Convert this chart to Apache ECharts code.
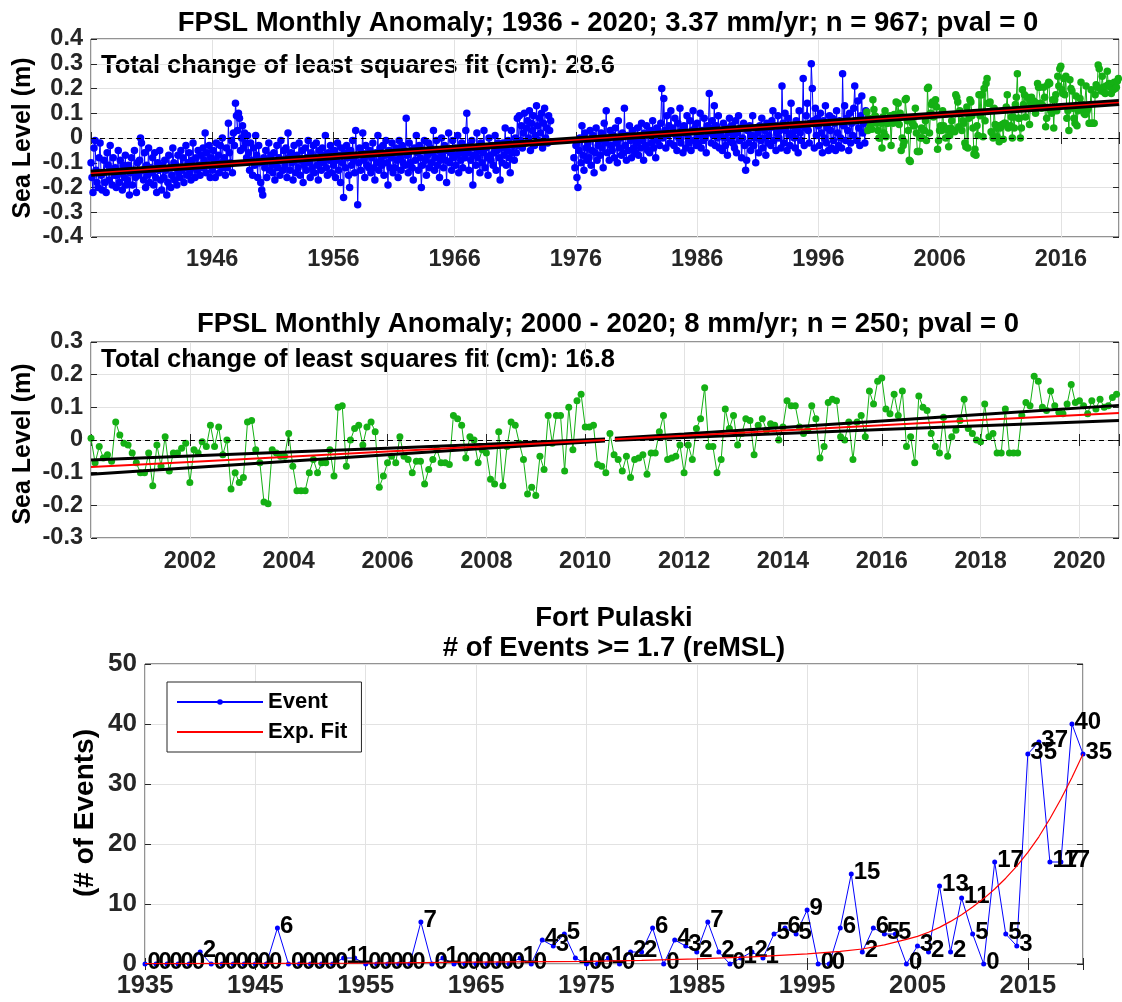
<!DOCTYPE html>
<html><head><meta charset="utf-8">
<script src="https://cdn.jsdelivr.net/npm/echarts@6/dist/echarts.min.js"></script>
<style>html,body{margin:0;padding:0;background:#fff}#c{width:1122px;height:1002px}</style>
</head><body><div id="c"></div>
<script>
// ---------------- DATA ----------------
// Top panel: monthly anomaly (cm), Jan 1936 - Dec 1973
const blueAStart = 1936;
const blueA = [
-10,-16,-22,-4,-1,-13,-18,-20,-8,-2,-15,-21,
-14,-9,-18,-22,-6,-11,-17,-3,-13,-19,-8,-15,
-12,-20,-15,-5,-18,-9,-14,-21,-11,-16,-7,-19,
-17,-11,-23,-14,-8,-19,-13,-5,-16,-22,-10,-15,
-9,0,-2,-13,-17,-6,-20,-11,-15,-4,-18,-12,
-14,-8,-19,-6,-16,-22,-10,-13,-5,-17,-21,-11,
-16,-9,-13,-23,-18,-7,-12,-20,-15,-4,-10,-17,
-11,-19,-7,-14,-16,-5,-13,-8,-18,-12,-3,-15,
-10,-6,-14,-17,-9,-2,-12,-16,-8,-13,-5,-11,
-15,-7,-12,-4,-9,2,-14,-6,-11,-3,-16,-8,
-13,-5,-9,-16,-2,-11,-7,-14,-3,-10,0,-12,
-8,-15,-4,-12,6,-6,-10,-1,-14,2,-3,14,
9,3,10,8,-5,0,5,-4,2,-2,-8,1,
-6,-13,-2,-9,-15,-4,-11,1,-7,-16,-3,-10,
-18,-21,-23,-8,-12,-5,-16,-9,-2,-13,-7,-11,
-14,-6,-17,-10,-3,-12,-8,-15,-1,-9,-13,-5,
-11,-4,-16,2,-8,-13,-6,-10,-17,-3,-9,-14,
-7,-12,-2,-15,-9,-5,-18,-11,-4,-13,-8,-1,
-10,-16,-6,-12,-3,-14,-8,-2,-11,-17,-5,-9,
-13,-4,-10,-7,1,-12,-15,-6,-9,-3,-14,-8,
-11,-5,-16,-9,-2,-13,-7,-18,-4,-10,-24,-6,
-12,-3,-8,-15,-20,-5,-11,-1,-9,-14,3,-7,
-27,-10,-4,-13,-6,2,-9,-16,-3,-11,-7,-12,
-5,-14,-8,-2,-12,-17,-6,-10,1,-13,-4,-9,
-11,-3,-15,-7,-1,-10,-19,-5,-12,-8,-2,-14,
-6,-12,-4,-9,-16,-1,-8,-13,-3,-10,-5,-11,
8,-7,-14,-2,-10,-5,-12,-17,-4,-9,1,-6,
-13,-3,-8,-20,-11,-5,-1,-9,-15,-7,-2,-12,
-4,-10,-6,3,-13,-8,-1,-11,-5,-16,-9,0,
-7,-12,-3,-9,-18,-5,2,-10,-6,-13,-1,-8,
-4,-11,-7,1,-14,-6,-9,-2,-12,-5,-8,3,
10,-6,-13,-3,-9,-1,-19,-7,-4,-11,2,-8,
-5,-14,-2,-10,-6,3,-12,-4,-8,-15,0,-7,
-9,-3,-11,-6,1,-13,-5,-2,-8,-17,-4,-10,
-2,-7,4,-11,-5,-1,-8,-14,3,-6,-3,-9,
0,-6,8,-3,9,-1,5,-4,2,10,-2,4,
7,0,11,-5,6,3,9,-3,1,13,5,-1,
8,2,10,-4,6,12,0,4,-2,9,3,7
];
// Top panel: monthly anomaly (cm), Nov 1975 - Dec 1999
const blueBStart = 1975 + 10/12;
const blueB = [
-8,-12,
-3,-16,-20,-5,0,-10,5,-7,-13,2,-4,-9,
-2,-8,3,-11,-5,1,-14,-6,4,-9,-3,-1,
-7,2,-4,-12,6,-2,11,-6,0,-9,3,-3,
-5,1,-8,4,-2,-10,7,-4,0,-7,2,-6,
12,-3,-9,1,-5,5,-1,-8,3,-4,0,-6,
-2,4,-7,0,-4,6,-1,-9,2,-3,5,-5,
1,-6,3,-2,7,-4,0,-8,4,-1,2,-3,
6,20,0,16,3,-4,9,1,5,-2,11,2,
4,-3,8,1,-5,6,0,12,-2,3,-6,5,
2,-4,9,0,-2,7,-5,3,11,-1,4,-3,
6,-2,1,10,-4,3,-1,8,0,-6,5,2,
18,4,-2,7,1,13,-3,5,0,9,-4,2,
3,-5,6,0,-3,4,-7,2,8,-1,5,-2,
1,-4,7,-6,2,9,-1,4,-8,0,6,-3,
-13,-9,3,-2,5,-5,1,9,-3,0,-10,4,
2,-6,5,-1,8,-4,0,3,-7,6,-2,1,
4,-3,7,11,-1,5,-5,2,9,0,3,-4,
21,6,-2,10,3,-5,8,1,-3,14,2,5,
0,-4,7,3,-6,11,2,-1,5,24,-3,4,
9,14,3,-2,6,30,20,7,-4,12,1,8,
5,-3,10,2,-6,7,0,13,-2,4,-5,9,
3,-4,8,-1,6,-5,11,2,-3,7,0,-4,
26,5,13,-1,8,3,-5,10,-2,6,1,12,
21,7,-1,15,4,-3,9,17,2,6,-2,11
];
// Top panel: monthly anomaly (cm), Jan 2000 onwards (green)
const greenStart = 2000;
const greenTop = [
10.5,3,8,4.5,5.5,3.5,15.5,11.5,9,8.5,6,3,
0,0,6,-4,8.5,2,11,0.5,6,6,7.5,9,
-3,7,6,9.5,8,14.5,8,14,5.5,10,-5,0,
-3,-1.5,15.5,16,7,3,-9,-9.5,7,6,5,5,
12,2,-5.5,-5.5,-5.5,0,4,0,3,3,7,-1,
20,20.5,2,10,13.5,14.5,8.5,14,15.5,12.5,-4.5,-1,
3,5,3,11,5,4,0,3.5,3.5,-3.5,1,4,
7,3,3,2.5,17.5,16.5,14.5,4.5,11,10,3,7,
6,-2,-3.5,12.5,-4,8,15.5,14.5,9,4,-6.5,-4.5,
-7,5,1,17.5,9,17.5,17.5,0.5,20,7,22,24,
14,14,14.5,2.5,2,0,12,5.5,4,0.5,5,-1.5,
4,4.5,5.5,-0.5,6,6,12.5,17.5,4,4.5,5,8.5,
0,8.5,4,13.5,16.5,26,8,8,0,4,19.5,13.5,
17.5,8.5,12,16.5,16,5.5,14.5,16.5,13,15,14.5,10,
14,22,20.5,20.5,14,12,13,20.5,16.5,4.5,8,21.5,
22.5,22,11,10,15.5,4,15.5,17.5,11,25,21,28,
29,19.5,18,24,17.5,25,8,11,3,23.5,20,19,
12,8,6,17,5,11,13,16,22.5,13.5,12,10,
9.5,21,11,12,6,6,19.5,6,6,6,17.5,21.5,
20.5,29.5,28,20,19,25,20.5,18.5,18,21,27,21.5,
22,20.5,18,22,19.5,22.5,20,20.5,23,24
];
// Middle panel: monthly anomaly (cm), Jan 2000 onwards
const greenMid = [
0.5,-7,-2,-5.5,-4.5,-6.5,5.5,1.5,-1,-1.5,-4,-7,
-10,-10,-4,-14,-1.5,-8,1,-9.5,-4,-4,-2.5,-1,
-13,-3,-4,-0.5,-2,4.5,-2,4,-4.5,0,-15,-10,
-13,-11.5,5.5,6,-3,-7,-19,-19.5,-3,-4,-5,-5,
2,-8,-15.5,-15.5,-15.5,-10,-6,-10,-7,-7,-3,-11,
10,10.5,-8,0,3.5,4.5,-1.5,4,5.5,2.5,-14.5,-11,
-7,-5,-7,1,-5,-6,-10,-6.5,-6.5,-13.5,-9,-6,
-3,-7,-7,-7.5,7.5,6.5,4.5,-5.5,1,0,-7,-3,
-4,-12,-13.5,2.5,-14,-2,5.5,4.5,-1,-6,-16.5,-14.5,
-17,-5,-9,7.5,-1,7.5,7.5,-9.5,10,-3,12,14,
4,4,4.5,-7.5,-8,-10,2,-4.5,-6,-9.5,-5,-11.5,
-6,-5.5,-4.5,-10.5,-4,-4,2.5,7.5,-6,-5.5,-5,-1.5,
-10,-1.5,-6,3.5,6.5,16,-2,-2,-10,-6,9.5,3.5,
7.5,-1.5,2,6.5,6,-4.5,4.5,6.5,3,5,4.5,0,
4,12,10.5,10.5,4,2,3,10.5,6.5,-5.5,-2,11.5,
12.5,12,1,0,5.5,-6,5.5,7.5,1,15,11,18,
19,9.5,8,14,7.5,15,-2,1,-7,13.5,10,9,
2,-2,-4,7,-5,1,3,6,12.5,3.5,2,0,
-0.5,11,1,2,-4,-4,9.5,-4,-4,-4,7.5,11.5,
10.5,19.5,18,10,9,15,10.5,8.5,8,11,17,11.5,
12,10.5,8,12,9.5,12.5,10,10.5,13,14
];
// Top panel least-squares fit (m)
const fitTopX = [1936, 2020.8];
const fitTopY = [-0.142, 0.143];
// Middle panel fit and bounds (m)
const midFitX  = [2000, 2002, 2004, 2006, 2008, 2010.4, 2010.6, 2012, 2014, 2016, 2018, 2020.8];
const midFitY  = [-0.083,-0.067,-0.051,-0.035,-0.019,0.000,0.002,0.013,0.029,0.045,0.061,0.083];
const midUpper = [-0.061,-0.049,-0.037,-0.025,-0.013,0.003,0.005,0.018,0.038,0.058,0.078,0.106];
const midLower = [-0.105,-0.085,-0.065,-0.045,-0.025,-0.003,-0.001,0.008,0.020,0.032,0.044,0.060];
const midBreak = 6; // first index of second segment
// Bottom panel: events per year
const eventYears = [];
for (let y = 1935; y <= 2020; y++) eventYears.push(y);
const eventCounts = [
0,0,0,0,0,2,0,0,0,0,0,0,6,0,0,0,0,0,1,1,
0,0,0,0,0,7,0,1,0,0,0,0,0,0,1,0,4,3,5,1,
0,0,1,0,2,2,6,0,4,3,2,7,2,0,1,2,1,5,6,5,
9,0,0,6,15,2,6,5,5,0,3,2,13,2,11,5,0,17,5,3,
35,37,17,17,40,35
];
const expFitYears = [1935, 1945, 1955, 1965, 1975, 1980, 1985, 1990, 1995, 1998, 2000, 2002, 2004, 2005, 2006, 2007, 2008, 2009, 2010, 2011, 2012, 2013, 2014, 2015, 2016, 2017, 2018, 2019, 2020];
const expFitVals  = [0.05, 0.1, 0.15, 0.3, 0.45, 0.6, 0.85, 1.2, 1.7, 2.1, 2.5, 3.2, 4.1, 4.6, 5.3, 6.1, 7.1, 8.2, 9.5, 10.9, 12.5, 14.3, 16.3, 18.6, 21.2, 24.2, 27.5, 31.1, 35];

// ---------------- BUILD ----------------
const FONTF = '"Liberation Sans", Arial, Helvetica, sans-serif';
const AX = '#262626', GRIDC = '#e2e2e2';
const BLUE = '#0000ff', GREEN = '#14b014', RED = '#ff0000';

function monthly(start, arr) { return arr.map((v, i) => [start + i / 12, v / 100]); }
function pairs(xs, ys, from, to) { const o = []; for (let i = from; i < to; i++) o.push([xs[i], ys[i]]); return o; }

function xAx(gi, min, max, interval, showMin, fs, margin, top) {
  return {
    type: 'value', gridIndex: gi, min, max, interval, position: top ? 'top' : 'bottom',
    axisLine: { show: false },
    axisTick: { show: true, inside: true, length: 6, lineStyle: { color: AX, width: 1 } },
    axisLabel: top ? { show: false } : {
      show: true, margin, color: AX, fontSize: fs, fontWeight: 'bold', fontFamily: FONTF,
      showMinLabel: true, showMaxLabel: true,
      formatter: v => { const r = Math.round(v); if (Math.abs(v - r) > 1e-6) return ''; if (Math.abs(r - min) < 1e-6 && !showMin) return ''; if (Math.abs(((r - min) % interval)) > 1e-6) return ''; if (r > max) return ''; return String(r); }
    },
    splitLine: { show: !top, lineStyle: { color: GRIDC, width: 1 } }
  };
}
function yAx(gi, min, max, interval, fs, margin, right, dec) {
  return {
    type: 'value', gridIndex: gi, min, max, interval, position: right ? 'right' : 'left',
    axisLine: { show: false },
    axisTick: { show: true, inside: true, length: 6, lineStyle: { color: AX, width: 1 } },
    axisLabel: right ? { show: false } : {
      show: true, margin, color: AX, fontSize: fs, fontWeight: 'bold', fontFamily: FONTF,
      formatter: v => { const r = Math.round(v * dec) / dec; return String(r === 0 ? 0 : r); }
    },
    splitLine: { show: !right, lineStyle: { color: GRIDC, width: 1 } }
  };
}

const grids = [
  { left: 91, top: 39, width: 1034, height: 198 },
  { left: 91, top: 342, width: 1031.5, height: 196 },
  { left: 145, top: 664, width: 938, height: 300 }
].map(g => Object.assign(g, { show: true, borderColor: AX, borderWidth: 1, backgroundColor: 'transparent' }));

const xAxes = [
  xAx(0, 1936, 2020.8, 10, false, 23.5, 11, false),
  xAx(1, 2000, 2020.8, 2, false, 23.5, 12, false),
  xAx(2, 1935, 2020, 10, true, 25.5, 9, false),
  xAx(0, 1936, 2020.8, 10, false, 23.5, 11, true),
  xAx(1, 2000, 2020.8, 2, false, 23.5, 12, true),
  xAx(2, 1935, 2020, 10, true, 25.5, 9, true)
];
const yAxes = [
  yAx(0, -0.4, 0.4, 0.1, 23.5, 8, false, 10),
  yAx(1, -0.3, 0.3, 0.1, 23.5, 8, false, 10),
  yAx(2, 0, 50, 10, 26, 8, false, 1),
  yAx(0, -0.4, 0.4, 0.1, 23.5, 8, true, 10),
  yAx(1, -0.3, 0.3, 0.1, 23.5, 8, true, 10),
  yAx(2, 0, 50, 10, 26, 8, true, 1)
];

function dataLine(name, xi, data, color, sym) {
  return { type: 'line', name, xAxisIndex: xi, yAxisIndex: xi, data, symbol: 'circle', symbolSize: sym, showSymbol: true,
    itemStyle: { color }, lineStyle: { color, width: 1 }, silent: true, z: 2, animation: false };
}
function fitLine(name, xi, data, color, w, z) {
  return { type: 'line', name, xAxisIndex: xi, yAxisIndex: xi, data, symbol: 'none', lineStyle: { color, width: w }, silent: true, z, animation: false };
}
const zeroMark = { silent: true, symbol: 'none', label: { show: false }, lineStyle: { color: '#000', type: [5, 4], width: 1 }, data: [{ yAxis: 0 }] };

const series = [];
// top
series.push(dataLine('obsA', 0, monthly(blueAStart, blueA), BLUE, 7.5));
series.push(dataLine('obsB', 0, monthly(blueBStart, blueB), BLUE, 7.5));
series.push(dataLine('obsC', 0, monthly(greenStart, greenTop), GREEN, 7.5));
const zt = fitLine('zeroTop', 0, [], '#000', 1, 1); zt.markLine = zeroMark; series.push(zt);
series.push(fitLine('fitTopK', 0, pairs(fitTopX, fitTopY, 0, fitTopX.length), '#000', 7, 4));
series.push(fitLine('fitTopR', 0, pairs(fitTopX, fitTopY, 0, fitTopX.length), RED, 1.5, 5));
// middle
series.push(dataLine('obsM', 1, monthly(greenStart, greenMid), GREEN, 7));
const zm = fitLine('zeroMid', 1, [], '#000', 1, 1); zm.markLine = zeroMark; series.push(zm);
[[0, midBreak], [midBreak, midFitX.length]].forEach(([a, b], k) => {
  series.push(fitLine('upK' + k, 1, pairs(midFitX, midUpper, a, b), '#000', 3, 4));
  series.push(fitLine('loK' + k, 1, pairs(midFitX, midLower, a, b), '#000', 3, 4));
  series.push(fitLine('fitR' + k, 1, pairs(midFitX, midFitY, a, b), RED, 2, 5));
});
// bottom
series.push({
  type: 'line', name: 'Event', xAxisIndex: 2, yAxisIndex: 2,
  data: eventYears.map((y, i) => [y, eventCounts[i]]),
  symbol: 'circle', symbolSize: 5, itemStyle: { color: BLUE }, lineStyle: { color: BLUE, width: 1 }, z: 3, animation: false,
  label: { show: true, position: 'right', distance: 0, offset: [0, -2], color: '#000', fontSize: 24, fontWeight: 'bold', fontFamily: FONTF,
    formatter: p => String(p.value[1]) }
});
series.push({
  type: 'line', name: 'Exp. Fit', xAxisIndex: 2, yAxisIndex: 2,
  data: expFitYears.map((y, i) => [y, expFitVals[i]]),
  symbol: 'none', smooth: false, lineStyle: { color: RED, width: 1.2 }, itemStyle: { color: RED }, z: 4, animation: false
});

function txt(x, y, text, size, align, rot) {
  const o = { type: 'text', x, y, silent: true, style: { text, font: 'bold ' + size + 'px ' + FONTF, fill: '#000', align: align || 'center', verticalAlign: 'middle' } };
  if (rot) o.rotation = rot;
  return o;
}
const graphic = [
  txt(608, 23, 'FPSL Monthly Anomaly; 1936 - 2020; 3.37 mm/yr; n = 967; pval = 0', 27.5),
  txt(101, 66, 'Total change of least squares fit (cm): 28.6', 25.5, 'left'),
  txt(23, 138, 'Sea Level (m)', 25, 'center', Math.PI / 2),
  txt(608, 324, 'FPSL Monthly Anomaly; 2000 - 2020; 8 mm/yr; n = 250; pval = 0', 27.5),
  txt(101, 360, 'Total change of least squares fit (cm): 16.8', 25.5, 'left'),
  txt(23, 444, 'Sea Level (m)', 25, 'center', Math.PI / 2),
  txt(614, 618, 'Fort Pulaski', 27.5),
  txt(614, 648, '# of Events >= 1.7 (reMSL)', 27.5),
  txt(85, 813, '(# of Events)', 28, 'center', Math.PI / 2)
];

const chart = echarts.init(document.getElementById('c'), null, { renderer: 'canvas' });
chart.setOption({
  animation: false,
  backgroundColor: '#fff',
  grid: grids, xAxis: xAxes, yAxis: yAxes, series, graphic,
  legend: {
    data: [{ name: 'Event' }, { name: 'Exp. Fit', itemStyle: { opacity: 0 } }],
    left: 167, top: 682, orient: 'vertical',
    itemWidth: 86, itemHeight: 7, itemGap: 8, padding: [9, 14, 9, 9],
    borderColor: AX, borderWidth: 1, backgroundColor: '#fff', borderRadius: 0,
    textStyle: { fontSize: 22, fontWeight: 'bold', fontFamily: FONTF, color: '#000' }
  }
});
</script></body></html>
